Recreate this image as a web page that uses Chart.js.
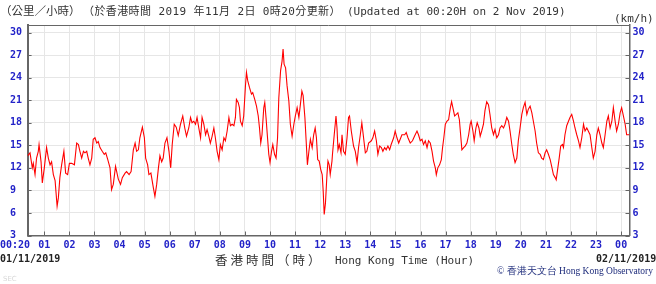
<!DOCTYPE html>
<html lang="zh-Hant">
<head>
<meta charset="UTF-8">
<title>Hong Kong Observatory - Wind Speed</title>
<script src="https://cdn.jsdelivr.net/npm/chart.js"></script>
<style>
  body { margin: 0; padding: 0; background: #fff; }
  #wrap { position: relative; width: 656px; height: 284px; overflow: hidden; }
  #wrap canvas { position: absolute; left: 0; top: 0; }
  .t { position: absolute; white-space: pre; line-height: 1; color: #333; }
  .mono { font-family: "DejaVu Sans Mono", "Noto Sans CJK TC", monospace; font-size: 11px; }
  .cjk { font-family: "Noto Sans CJK TC", sans-serif; }
  .tick { font-family: "DejaVu Sans Mono", monospace; font-weight: bold; font-size: 10px; color: #2323c8; }
  .date { font-family: "DejaVu Sans Mono", monospace; font-weight: bold; font-size: 10px; color: #222; }
</style>
</head>
<body>
<div id="wrap">
  <canvas id="windChart" width="656" height="284"></canvas>
  <div class="t cjk" style="left:0;top:5px;font-size:11.5px;">（公里／小時）</div>
  <div class="t mono" style="left:83px;top:6px;letter-spacing:0.4px;">（於香港時間 2019 年11月 2日 0時20分更新）</div>
  <div class="t mono" style="left:347px;top:6px;">(Updated at 00:20H on 2 Nov 2019)</div>
  <div class="t mono" style="left:614px;top:13px;">(km/h)</div>
  <div class="t tick" style="left:0;top:240px;">00:20</div>
  <div class="t date" style="left:0;top:254px;">01/11/2019</div>
  <div class="t cjk" style="left:215px;top:254px;font-size:12.5px;letter-spacing:3px;">香港時間（時）</div>
  <div class="t mono" style="left:335px;top:255px;">Hong Kong Time (Hour)</div>
  <div class="t date" style="left:596px;top:254px;">02/11/2019</div>
  <div class="t" style="right:3px;top:267px;font-family:'Liberation Serif',serif;font-size:9.5px;color:#1c2a7a;">© 香港天文台 Hong Kong Observatory</div>
  <div class="t" style="left:3px;top:276px;font-family:'DejaVu Sans',sans-serif;font-size:7px;color:#d8d8d8;">SEC</div>
</div>

<script>
// hours since 00:00 on 01/11/2019
const hours = [
  0.333, 0.43, 0.52, 0.56, 0.63, 0.69, 0.76, 0.79, 0.87, 0.92,
  1.00, 1.09, 1.16, 1.23, 1.29, 1.36, 1.43, 1.51, 1.56, 1.62,
  1.69, 1.78, 1.85, 1.93, 2.00, 2.09, 2.20, 2.29, 2.36, 2.42,
  2.49, 2.56, 2.62, 2.69, 2.75, 2.82, 2.89, 2.95, 3.02, 3.09,
  3.15, 3.22, 3.31, 3.39, 3.45, 3.53, 3.62, 3.68, 3.75, 3.84,
  3.95, 4.04, 4.11, 4.22, 4.28, 4.38, 4.46, 4.55, 4.62, 4.68,
  4.75, 4.81, 4.91, 4.99, 5.04, 5.12, 5.17, 5.25, 5.35, 5.41,
  5.48, 5.55, 5.61, 5.68, 5.74, 5.81, 5.89, 5.97, 6.04, 6.10,
  6.18, 6.26, 6.34, 6.43, 6.52, 6.60, 6.67, 6.76, 6.83, 6.89,
  6.96, 7.03, 7.09, 7.16, 7.23, 7.29, 7.36, 7.43, 7.49, 7.56,
  7.62, 7.69, 7.76, 7.82, 7.89, 7.96, 8.02, 8.09, 8.16, 8.22,
  8.29, 8.36, 8.42, 8.49, 8.56, 8.62, 8.66, 8.73, 8.78, 8.82,
  8.89, 8.95, 9.02, 9.06, 9.11, 9.18, 9.26, 9.31, 9.39, 9.46,
  9.53, 9.58, 9.63, 9.68, 9.75, 9.79, 9.84, 9.90, 9.95, 10.00,
  10.06, 10.11, 10.18, 10.24, 10.30, 10.35, 10.42, 10.48, 10.52, 10.56,
  10.62, 10.68, 10.75, 10.81, 10.88, 10.95, 11.01, 11.08, 11.15, 11.21,
  11.27, 11.32, 11.39, 11.44, 11.49, 11.55, 11.61, 11.68, 11.74, 11.80,
  11.85, 11.90, 11.96, 12.02, 12.08, 12.12, 12.16, 12.21, 12.27, 12.31,
  12.36, 12.40, 12.47, 12.49, 12.56, 12.63, 12.67, 12.71, 12.76, 12.83,
  12.87, 12.93, 13.00, 13.07, 13.13, 13.17, 13.24, 13.33, 13.40, 13.47,
  13.53, 13.60, 13.66, 13.73, 13.80, 13.86, 13.93, 14.04, 14.10, 14.17,
  14.24, 14.30, 14.37, 14.44, 14.50, 14.57, 14.63, 14.70, 14.77, 14.83,
  14.93, 14.99, 15.06, 15.13, 15.19, 15.26, 15.37, 15.43, 15.50, 15.59,
  15.68, 15.76, 15.86, 15.92, 15.99, 16.06, 16.12, 16.19, 16.26, 16.32,
  16.39, 16.46, 16.52, 16.59, 16.63, 16.69, 16.76, 16.83, 16.88, 16.93,
  16.99, 17.05, 17.12, 17.19, 17.24, 17.29, 17.36, 17.43, 17.49, 17.55,
  17.60, 17.65, 17.72, 17.78, 17.85, 17.92, 17.98, 18.02, 18.09, 18.14,
  18.21, 18.26, 18.33, 18.38, 18.44, 18.51, 18.57, 18.64, 18.71, 18.77,
  18.84, 18.91, 18.97, 19.04, 19.11, 19.17, 19.24, 19.31, 19.37, 19.44,
  19.51, 19.57, 19.64, 19.70, 19.77, 19.84, 19.90, 19.97, 20.04, 20.10,
  20.17, 20.24, 20.30, 20.37, 20.44, 20.50, 20.57, 20.63, 20.70, 20.77,
  20.83, 20.90, 20.97, 21.03, 21.10, 21.17, 21.23, 21.30, 21.37, 21.41,
  21.46, 21.53, 21.59, 21.66, 21.70, 21.76, 21.83, 21.90, 21.96, 22.03,
  22.10, 22.16, 22.23, 22.30, 22.36, 22.43, 22.50, 22.56, 22.63, 22.69,
  22.76, 22.83, 22.89, 22.96, 23.03, 23.09, 23.16, 23.23, 23.29, 23.36,
  23.43, 23.49, 23.56, 23.63, 23.69, 23.76, 23.82, 23.89, 23.96, 24.02,
  24.09, 24.16, 24.22, 24.333
];

// 10-min mean wind speed (km/h)
const speeds = [
  13.6, 14.0, 12.0, 12.6, 11.1, 13.3, 14.2, 15.1, 12.8, 10.0,
  12.0, 14.7, 13.3, 12.4, 12.8, 11.1, 10.3, 6.9, 8.0, 10.7,
  12.4, 14.2, 11.3, 11.1, 12.6, 12.6, 12.4, 15.3, 15.1, 14.2,
  13.3, 14.2, 14.0, 14.2, 13.3, 12.4, 13.3, 15.8, 16.0, 15.3,
  15.5, 14.7, 14.2, 13.8, 14.0, 13.1, 12.0, 9.1, 9.8, 12.2,
  10.5, 9.8, 10.7, 11.3, 11.5, 11.1, 11.5, 14.4, 15.3, 14.2,
  14.4, 16.0, 17.4, 16.0, 13.3, 12.4, 11.1, 11.3, 9.3, 8.2,
  9.8, 12.0, 13.6, 12.8, 13.3, 15.3, 16.0, 14.2, 12.0, 15.1,
  17.8, 17.4, 16.3, 17.8, 18.9, 17.3, 16.2, 17.3, 18.7, 18.0,
  18.2, 17.8, 18.7, 17.3, 16.0, 18.7, 17.8, 16.4, 17.1, 16.2,
  15.3, 16.2, 17.3, 16.0, 14.2, 13.1, 15.1, 14.4, 16.0, 15.6,
  16.9, 18.7, 17.6, 17.8, 17.6, 18.7, 21.1, 20.7, 20.0, 18.2,
  17.6, 18.9, 22.9, 24.7, 23.6, 22.7, 21.8, 22.0, 21.1, 20.2,
  18.9, 17.3, 15.3, 16.4, 20.0, 20.7, 18.7, 16.0, 13.8, 12.7,
  14.2, 15.1, 13.8, 13.3, 16.0, 21.3, 24.9, 26.2, 27.8, 25.8,
  25.3, 22.9, 20.9, 17.8, 16.2, 17.8, 18.9, 20.0, 18.7, 20.4,
  22.2, 21.6, 18.7, 15.6, 12.4, 14.2, 15.8, 14.7, 16.4, 17.3,
  16.0, 13.1, 12.9, 11.8, 11.1, 8.9, 5.8, 7.3, 11.1, 12.9,
  12.4, 11.1, 12.9, 13.8, 16.4, 18.9, 17.3, 14.4, 15.1, 14.0,
  16.4, 14.2, 13.8, 16.0, 18.7, 18.9, 16.9, 14.9, 14.2, 12.7,
  14.7, 16.4, 18.0, 16.0, 14.0, 14.2, 15.3, 15.6, 16.0, 16.9,
  15.6, 13.8, 14.9, 14.7, 14.2, 14.7, 14.4, 14.9, 14.4, 15.1,
  16.0, 16.9, 16.0, 15.3, 15.8, 16.4, 16.4, 16.7, 16.0, 15.3,
  15.6, 16.2, 16.9, 16.4, 15.6, 15.8, 15.1, 15.6, 14.7, 15.6,
  15.3, 14.2, 12.9, 12.0, 11.1, 12.0, 12.4, 13.1, 14.7, 16.0,
  17.8, 18.2, 18.4, 20.0, 20.8, 20.0, 18.9, 19.1, 19.3, 18.4,
  16.4, 14.4, 14.7, 14.9, 15.3, 16.4, 17.8, 18.2, 16.9, 15.6,
  17.3, 18.0, 17.3, 16.2, 16.9, 17.8, 19.6, 20.8, 20.4, 19.1,
  17.3, 16.4, 17.1, 16.0, 16.4, 17.3, 17.6, 17.3, 17.8, 18.7,
  18.2, 16.9, 15.1, 13.8, 12.7, 13.3, 15.6, 17.3, 19.1, 20.0,
  20.7, 19.1, 19.8, 20.2, 19.3, 18.2, 16.9, 15.3, 14.0, 13.8,
  13.3, 13.1, 14.0, 14.4, 13.8, 13.1, 12.2, 11.1, 10.7, 10.4,
  11.6, 13.3, 14.9, 15.1, 14.7, 16.4, 17.6, 18.2, 18.7, 19.1,
  18.2, 17.3, 16.4, 15.6, 14.7, 16.0, 17.8, 16.9, 17.3, 16.9,
  16.4, 14.7, 13.3, 14.2, 16.4, 17.3, 16.4, 15.3, 14.7, 16.4,
  18.2, 18.9, 17.3, 18.2, 20.0, 18.2, 16.9, 17.8, 19.3, 20.0,
  18.9, 17.8, 16.4, 16.4
];

const hourTicks = [1, 2, 3, 4, 5, 6, 7, 8, 9, 10, 11, 12, 13, 14, 15, 16, 17, 18, 19, 20, 21, 22, 23, 24];
const hourLabels = ['01', '02', '03', '04', '05', '06', '07', '08', '09', '10', '11', '12',
                    '13', '14', '15', '16', '17', '18', '19', '20', '21', '22', '23', '00'];
const speedTicks = [3, 6, 9, 12, 15, 18, 21, 24, 27, 30];

const axisGrey = '#666';
const tickBlue = '#2323c8';
const tickFont = { family: 'DejaVu Sans Mono', size: 10, weight: 'bold' };

// short inward tick marks + top frame line
const frameTicks = {
  id: 'frameTicks',
  afterDraw(chart) {
    const ctx = chart.ctx, a = chart.chartArea;
    const x = chart.scales.x, y = chart.scales.y;
    ctx.save();
    ctx.strokeStyle = axisGrey;
    ctx.lineWidth = 1;
    ctx.beginPath();
    ctx.moveTo(a.left, a.top + 0.5);
    ctx.lineTo(a.right, a.top + 0.5);
    hourTicks.forEach(h => {
      const px = Math.round(x.getPixelForValue(h)) + 0.5;
      ctx.moveTo(px, a.bottom);
      ctx.lineTo(px, a.bottom - 4);
    });
    speedTicks.forEach(s => {
      const py = Math.round(y.getPixelForValue(s)) + 0.5;
      ctx.moveTo(a.left, py);
      ctx.lineTo(a.left + 4, py);
      ctx.moveTo(a.right - 4, py);
      ctx.lineTo(a.right, py);
    });
    ctx.stroke();
    ctx.restore();
  }
};

new Chart(document.getElementById('windChart'), {
  type: 'line',
  data: {
    datasets: [{
      data: hours.map((h, i) => ({ x: h, y: speeds[i] })),
      borderColor: '#ff0000',
      borderWidth: 1.1,
      pointRadius: 0,
      tension: 0,
      fill: false
    }]
  },
  options: {
    responsive: false,
    animation: false,
    layout: { padding: { left: 10, right: 0, top: 25, bottom: 0 } },
    plugins: { legend: { display: false }, tooltip: { enabled: false } },
    scales: {
      x: {
        type: 'linear',
        min: 1 / 3,
        max: 24 + 1 / 3,
        afterBuildTicks: s => { s.ticks = hourTicks.map(v => ({ value: v })); },
        afterFit: s => { s.height = 48.5; },
        grid: { color: '#e6e6e6', drawTicks: false },
        border: { color: axisGrey, width: 1.5 },
        ticks: {
          autoSkip: false, maxRotation: 0, padding: 4,
          color: tickBlue, font: tickFont,
          callback: (v, i) => hourLabels[i]
        }
      },
      y: {
        position: 'left',
        min: 3,
        max: 31,
        afterBuildTicks: s => { s.ticks = speedTicks.map(v => ({ value: v })); },
        afterFit: s => { s.width = 17.6; },
        grid: { color: '#e6e6e6', drawTicks: false },
        border: { color: axisGrey, width: 2 },
        ticks: { crossAlign: 'far', padding: 0, color: tickBlue, font: tickFont }
      },
      y2: {
        position: 'right',
        min: 3,
        max: 31,
        afterBuildTicks: s => { s.ticks = speedTicks.map(v => ({ value: v })); },
        afterFit: s => { s.width = 26.5; },
        grid: { drawOnChartArea: false, drawTicks: false },
        border: { color: axisGrey, width: 1.5 },
        ticks: { crossAlign: 'near', padding: 3, color: tickBlue, font: tickFont }
      }
    }
  },
  plugins: [frameTicks]
});
</script>
</body>
</html>
